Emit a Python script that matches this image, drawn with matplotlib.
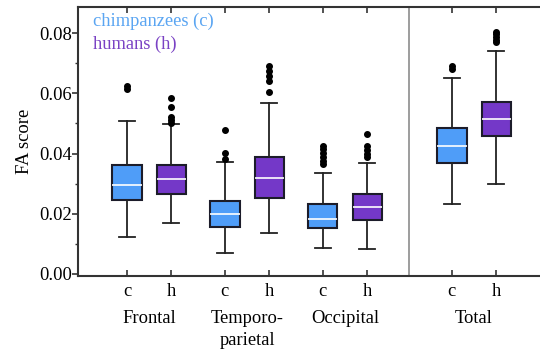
import matplotlib
matplotlib.use("Agg")
import matplotlib.pyplot as plt
import matplotlib.transforms as mtransforms
from matplotlib.ticker import MultipleLocator

plt.rcParams['font.family'] = ['Liberation Serif', 'DejaVu Serif']

# box statistics (c = chimpanzees, h = humans)
regions = ["Frontal", "Temporo-\nparietal", "Occipital", "Total"]
tick_labels = ["c", "h", "c", "h", "c", "h", "c", "h"]
whislo = [0.0121, 0.0167, 0.0069, 0.0136, 0.0084, 0.0081, 0.0232, 0.0298]
q1 = [0.0245, 0.0264, 0.0154, 0.0253, 0.0151, 0.0178, 0.0369, 0.0458]
med = [0.0295, 0.0314, 0.0198, 0.0318, 0.0183, 0.0223, 0.0426, 0.0515]
q3 = [0.0362, 0.0362, 0.0242, 0.0389, 0.0231, 0.0265, 0.0486, 0.0571]
whishi = [0.0508, 0.0498, 0.0373, 0.0567, 0.0336, 0.0367, 0.0653, 0.0742]
fliers = [
    [0.0625, 0.0614],
    [0.0586, 0.0554, 0.0521, 0.0510, 0.0503],
    [0.0478, 0.0403, 0.0381],
    [0.0693, 0.0676, 0.0658, 0.0642, 0.0606],
    [0.0426, 0.0415, 0.0401, 0.0389, 0.0376, 0.0365],
    [0.0465, 0.0426, 0.0412, 0.0398, 0.0387],
    [0.0693, 0.0681],
    [0.0804, 0.0797, 0.0789, 0.0778, 0.0771],
]

positions = [1, 2, 3.2, 4.2, 5.4, 6.4, 8.3, 9.3]
blue = "#4f9df8"
purple = "#7438c8"
colors = [blue, purple] * 4
fs = 13.3

fig = plt.figure(figsize=(5.4, 3.54), dpi=100)
ax = fig.add_axes([0.1444, 0.2203, 0.8556, 0.7599])

stats = []
for i in range(len(positions)):
    stats.append(dict(whislo=whislo[i], q1=q1[i], med=med[i], q3=q3[i],
                      whishi=whishi[i], fliers=fliers[i]))

bp = ax.bxp(stats, positions=positions, widths=0.66, patch_artist=True,
            showfliers=True,
            boxprops=dict(edgecolor="#1c1c2a", linewidth=1.5),
            medianprops=dict(color="white", linewidth=1.2),
            whiskerprops=dict(color="#222222", linewidth=1.3),
            capprops=dict(color="#222222", linewidth=1.3),
            capwidths=0.36,
            flierprops=dict(marker="o", markerfacecolor="black",
                            markeredgecolor="black", markersize=4))
for patch, c in zip(bp["boxes"], colors):
    patch.set_facecolor(c)

ax.axvline(7.33, color="#8c8c8c", linewidth=1.2)

ax.set_xlim(-0.1, 10.28)
ax.set_ylim(-0.0008, 0.0888)
ax.set_xticks(positions)
ax.set_xticklabels(tick_labels, fontsize=fs)
ax.yaxis.set_minor_locator(MultipleLocator(0.01))
ax.set_yticks([0, 0.02, 0.04, 0.06, 0.08])
ax.set_yticklabels(["0.00", "0.02", "0.04", "0.06", "0.08"], fontsize=fs)
ax.tick_params(axis="x", direction="in", top=True, length=4, width=1.2,
               pad=5, color="#333333")
ax.tick_params(axis="y", which="major", direction="out", length=4, width=1.2,
               pad=0.5, color="#333333")
ax.tick_params(axis="y", which="minor", direction="out", length=2.5, width=1.0,
               color="#333333")
ax.set_ylabel("FA score", fontsize=fs, labelpad=4)

ax.spines["right"].set_visible(False)
for s in ["left", "top", "bottom"]:
    ax.spines[s].set_color("#333333")
    ax.spines[s].set_linewidth(1.5)

trans = mtransforms.blended_transform_factory(ax.transData, ax.transAxes)
group_x = [(positions[0] + positions[1]) / 2, (positions[2] + positions[3]) / 2,
           (positions[4] + positions[5]) / 2, (positions[6] + positions[7]) / 2]
for gx, name in zip(group_x, regions):
    ax.text(gx, -0.125, name, transform=trans, ha="center", va="top",
            fontsize=fs, linespacing=1.45)

ax.text(0.032, 0.948, "chimpanzees (c)", transform=ax.transAxes,
        color="#5aa5f2", fontsize=fs, va="center", ha="left")
ax.text(0.032, 0.862, "humans (h)", transform=ax.transAxes,
        color="#7a42c4", fontsize=fs, va="center", ha="left")

fig.savefig("out.png", dpi=100)
